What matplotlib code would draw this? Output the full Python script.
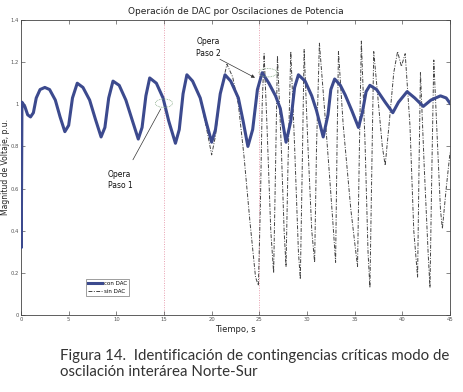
import matplotlib
matplotlib.use("Agg")
import matplotlib.pyplot as plt
from matplotlib.patches import Ellipse

# con DAC (solid)
t_con = [0.0, 0.03, 0.1, 0.4, 0.7, 1.0, 1.3, 1.6, 2.0, 2.5, 3.0, 3.6, 4.1, 4.6, 5.0, 5.4, 5.9,
         6.5, 7.2, 7.8, 8.4, 8.8, 9.2, 9.65, 10.3, 11.0, 11.7, 12.3, 12.7, 13.1, 13.5, 14.2,
         14.9, 15.5, 16.2, 16.6, 17.0, 17.4, 18.0, 18.8, 19.4, 20.0, 20.4, 20.9, 21.4, 22.0,
         22.8, 23.3, 23.8, 24.3, 24.8, 25.3, 26.0, 26.7, 27.2, 27.8, 28.3, 28.7, 29.1, 29.8,
         30.5, 31.0, 31.7, 32.2, 32.5, 32.9, 33.5, 34.0, 34.7, 35.4, 35.8, 36.2, 36.6, 37.3,
         38.2, 39.0, 39.6, 40.5, 41.3, 42.2, 43.0, 44.0, 44.6, 45.0]
v_con = [1.0, 0.32, 1.01, 0.99, 0.95, 0.94, 0.96, 1.03, 1.07, 1.08, 1.07, 1.02, 0.94, 0.87, 0.90,
         1.03, 1.10, 1.08, 1.02, 0.93, 0.845, 0.89, 1.03, 1.11, 1.09, 1.02, 0.92, 0.835, 0.89,
         1.04, 1.125, 1.10, 1.03, 0.92, 0.815, 0.88, 1.05, 1.14, 1.11, 1.03, 0.92, 0.82, 0.88,
         1.05, 1.14, 1.11, 1.03, 0.92, 0.80, 0.88, 1.07, 1.15, 1.10, 1.04, 0.98, 0.82, 0.92,
         1.08, 1.14, 1.11, 1.04, 0.97, 0.845, 0.95, 1.07, 1.12, 1.09, 1.045, 0.97, 0.89, 0.96,
         1.06, 1.09, 1.07, 1.01, 0.96, 1.01, 1.06, 1.03, 0.99, 1.02, 1.04, 1.03, 1.005]

# sin DAC (dash-dot): follows con DAC up to t=18.8, then diverges
t_sin_tail = [19.4, 20.0, 20.4, 20.9, 21.6, 22.2, 22.8, 23.4, 24.0, 24.6, 24.9, 25.1, 25.3, 25.5,
              25.8, 26.2, 26.5, 26.7, 26.9, 27.3, 27.6, 27.8, 28.0, 28.3, 28.7, 29.1, 29.3, 29.5,
              29.7, 30.1, 30.5, 30.8, 31.0, 31.3, 31.8, 32.3, 32.7, 33.0, 33.15, 33.3, 33.8, 34.6,
              35.3, 35.5, 35.7, 36.1, 36.4, 36.6, 36.8, 37.0, 37.5, 37.9, 38.2, 38.6, 39.1, 39.5,
              39.9, 40.3, 40.8, 41.2, 41.6, 41.75, 41.9, 42.3, 42.7, 42.9, 43.1, 43.3, 43.7, 44.0,
              44.2, 44.6, 45.0]
v_sin_tail = [0.90, 0.76, 0.85, 1.05, 1.19, 1.13, 1.00, 0.75, 0.45, 0.18, 0.14, 0.50, 1.00, 1.24,
              0.90, 0.40, 0.20, 0.70, 1.23, 0.80, 0.40, 0.23, 0.70, 1.25, 0.80, 0.30, 0.17, 0.70,
              1.26, 0.80, 0.40, 0.25, 0.80, 1.29, 1.00, 0.70, 0.45, 0.25, 0.80, 1.25, 0.90, 0.50,
              0.23, 0.80, 1.30, 0.80, 0.30, 0.13, 0.70, 1.25, 1.00, 0.80, 0.71, 0.90, 1.15, 1.25,
              1.18, 1.24, 0.90, 0.40, 0.18, 0.70, 1.15, 0.70, 0.30, 0.13, 0.70, 1.21, 0.80, 0.50,
              0.41, 0.60, 0.77]

xticks = [0, 5, 10, 15, 20, 25, 30, 35, 40, 45]
yticks = [0, 0.2, 0.4, 0.6, 0.8, 1.0, 1.2, 1.4]
ytick_labels = ["0", "0.2", "0.4", "0.6", "0.8", "1", "1.2", "1.4"]

n_common = sum(1 for t in t_con if t <= 18.8)
t_sin = t_con[:n_common] + t_sin_tail
v_sin = v_con[:n_common] + v_sin_tail

fig = plt.figure(figsize=(4.64, 3.92), dpi=100)
ax = fig.add_axes([21/464, 1 - 315/392, (450 - 21)/464, (315 - 20)/392])

ax.plot(t_sin, v_sin, color="#444444", lw=0.7, ls=(0, (4, 1.5, 1, 1.5)), label="sin DAC", zorder=2)
ax.plot(t_con, v_con, color="#3c4a8e", lw=2.2, label="con DAC", zorder=3)

for xv in (15, 25):
    ax.axvline(xv, color="#e8a0b0", lw=0.7, ls=(0, (1, 1.5)), zorder=1)

ax.set_xlim(0, 45)
ax.set_ylim(0, 1.4)
ax.set_xticks(xticks)
ax.set_xticklabels([str(x) for x in xticks])
ax.set_yticks(yticks)
ax.set_yticklabels(ytick_labels)
ax.tick_params(direction="in", length=3, width=0.5, labelsize=3.8, top=True, right=True,
               colors="#555555", pad=1.5)
for s in ax.spines.values():
    s.set_linewidth(0.6)
    s.set_color("#444444")

ax.set_title("Operación de DAC por Oscilaciones de Potencia", fontsize=6.5, pad=4, color="#222222")
ax.set_xlabel("Tiempo, s", fontsize=6, labelpad=2, color="#222222")
fig.text(5.5/464, 1 - 167/392, "Magnitud de Voltaje, p.u.", rotation=90, fontsize=5.5,
         va="center", ha="center", color="#222222")

# ellipses and annotations
ax.add_patch(Ellipse((15.0, 1.005), 1.8, 0.04, fill=False, ec="#88aa88", lw=0.6, ls=(0, (1, 1)), zorder=4))
ax.add_patch(Ellipse((25.9, 1.15), 1.9, 0.04, fill=False, ec="#88aa88", lw=0.6, ls=(0, (1, 1)), zorder=4))
ax.annotate("", xy=(14.8, 0.99), xytext=(11.6, 0.725),
            arrowprops=dict(arrowstyle="-", color="#333333", lw=0.5))
ax.text(9.1, 0.69, "Opera\nPaso 1", fontsize=5.5, va="top", ha="left", linespacing=1.4, color="#111111")
ax.annotate("", xy=(24.8, 1.12), xytext=(20.6, 1.22),
            arrowprops=dict(arrowstyle="-|>", color="#333333", lw=0.5, mutation_scale=5))
ax.text(18.4, 1.32, "Opera\nPaso 2", fontsize=5.5, va="top", ha="left", linespacing=1.4, color="#111111")

leg = ax.legend(handles=ax.get_lines()[1::-1], loc="lower left", bbox_to_anchor=(0.145, 0.055),
                fontsize=4, frameon=True, fancybox=False, handlelength=2.5, borderpad=0.4,
                labelspacing=0.5, handletextpad=0.3)
leg.get_frame().set_linewidth(0.5)
leg.get_frame().set_edgecolor("#555555")

fig.text(60/464, 1 - 364/392, "Figura 14.  Identificación de contingencias críticas modo de\noscilación interárea Norte-Sur",
         fontsize=10.8, color="#333333", va="center", ha="left", linespacing=1.2, family="Lato")

fig.savefig("out.png", dpi=100)
